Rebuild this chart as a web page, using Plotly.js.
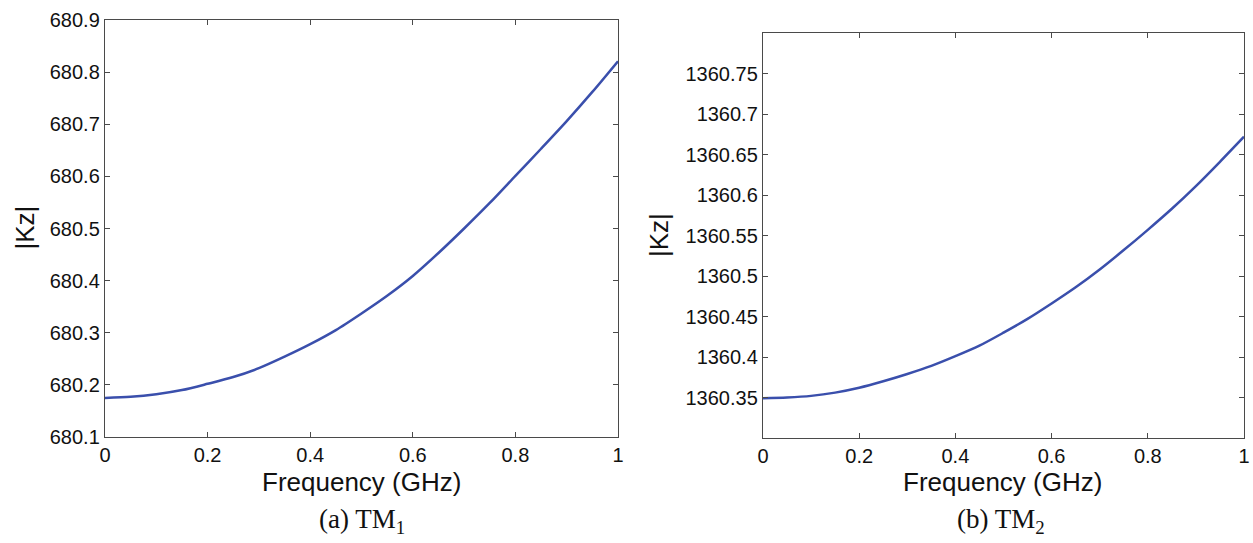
<!DOCTYPE html>
<html>
<head>
<meta charset="utf-8">
<script src="https://cdn.plot.ly/plotly-3.0.1.min.js"></script>
<style>
  html, body { margin: 0; padding: 0; background: #fff; }
  #chart { width: 1253px; height: 543px; }
</style>
</head>
<body>
<div id="chart"></div>
<script>
// Frequency sweep (GHz), shared by both modes
const freqGHz = [0, 0.05, 0.1, 0.15, 0.2, 0.25, 0.3, 0.35, 0.4, 0.45, 0.5,
                 0.55, 0.6, 0.65, 0.7, 0.75, 0.8, 0.85, 0.9, 0.95, 1.0];

// |Kz| for the TM1 mode
const kzTM1 = [680.175, 680.177, 680.182, 680.190, 680.202, 680.215, 680.232,
               680.254, 680.278, 680.305, 680.337, 680.371, 680.409, 680.453,
               680.500, 680.549, 680.601, 680.653, 680.706, 680.762, 680.821];

// |Kz| for the TM2 mode
const kzTM2 = [1360.349, 1360.350, 1360.352, 1360.356, 1360.362, 1360.370,
               1360.379, 1360.389, 1360.401, 1360.414, 1360.430, 1360.447,
               1360.466, 1360.486, 1360.508, 1360.532, 1360.557, 1360.583,
               1360.611, 1360.641, 1360.672];

const xTicks = [0, 0.2, 0.4, 0.6, 0.8, 1];
const yTicksTM1 = [680.1, 680.2, 680.3, 680.4, 680.5, 680.6, 680.7, 680.8, 680.9];
const yTicksTM2 = [1360.35, 1360.4, 1360.45, 1360.5, 1360.55, 1360.6, 1360.65, 1360.7, 1360.75];

const W = 1253, H = 543;
const fx = p => p / W;          // pixel -> paper x
const fy = p => 1 - p / H;      // pixel -> paper y

const lineColor = '#3a4fac';
const axisColor = '#4a4a4a';
const sans = 'Liberation Sans, Arial, Helvetica, sans-serif';
const serif = 'Liberation Serif, Times New Roman, serif';

function axisBase(extra) {
  return Object.assign({
    showgrid: false,
    zeroline: false,
    showline: true,
    linecolor: axisColor,
    linewidth: 1.2,
    mirror: 'ticks',
    ticks: 'inside',
    ticklen: 5,
    tickwidth: 1,
    tickcolor: axisColor,
    tickfont: { family: sans, size: 20, color: '#111' },
    fixedrange: true
  }, extra);
}

const traces = [
  {
    x: freqGHz, y: kzTM1, xaxis: 'x', yaxis: 'y',
    type: 'scatter', mode: 'lines',
    line: { color: lineColor, width: 2.5, shape: 'spline', smoothing: 0.8 },
    hoverinfo: 'skip'
  },
  {
    x: freqGHz, y: kzTM2, xaxis: 'x2', yaxis: 'y2',
    type: 'scatter', mode: 'lines',
    line: { color: lineColor, width: 2.5, shape: 'spline', smoothing: 0.8 },
    hoverinfo: 'skip'
  }
];

const titleFont = { family: sans, size: 26, color: '#111' };
const captionFont = { family: serif, size: 27, color: '#111' };

const layout = {
  width: W, height: H,
  margin: { l: 0, r: 0, t: 0, b: 0 },
  paper_bgcolor: '#fff',
  plot_bgcolor: '#fff',
  showlegend: false,
  xaxis: axisBase({
    domain: [fx(105), fx(618)], anchor: 'y',
    range: [0, 1], tickmode: 'array', tickvals: xTicks, tickformat: '~g'
  }),
  yaxis: axisBase({
    domain: [fy(437), fy(20)], anchor: 'x',
    range: [680.1, 680.9], tickmode: 'array', tickvals: yTicksTM1, tickformat: '.1f'
  }),
  xaxis2: axisBase({
    domain: [fx(763), fx(1244)], anchor: 'y2',
    range: [0, 1], tickmode: 'array', tickvals: xTicks, tickformat: '~g'
  }),
  yaxis2: axisBase({
    domain: [fy(438), fy(33)], anchor: 'x2',
    range: [1360.3, 1360.8], tickmode: 'array', tickvals: yTicksTM2, tickformat: '.2~f'
  }),
  annotations: [
    { text: 'Frequency (GHz)', x: fx(361.5), y: fy(482), xref: 'paper', yref: 'paper',
      showarrow: false, xanchor: 'center', yanchor: 'middle', font: titleFont },
    { text: 'Frequency (GHz)', x: fx(1002), y: fy(482), xref: 'paper', yref: 'paper',
      showarrow: false, xanchor: 'center', yanchor: 'middle', font: titleFont },
    { text: '|Kz|', x: fx(24.5), y: fy(228), xref: 'paper', yref: 'paper',
      showarrow: false, xanchor: 'center', yanchor: 'middle', textangle: -90, font: titleFont },
    { text: '|Kz|', x: fx(659), y: fy(235), xref: 'paper', yref: 'paper',
      showarrow: false, xanchor: 'center', yanchor: 'middle', textangle: -90, font: titleFont },
    { text: '(a) TM<sub>1</sub>', x: fx(362), y: fy(521), xref: 'paper', yref: 'paper',
      showarrow: false, xanchor: 'center', yanchor: 'middle', font: captionFont },
    { text: '(b) TM<sub>2</sub>', x: fx(1001), y: fy(521), xref: 'paper', yref: 'paper',
      showarrow: false, xanchor: 'center', yanchor: 'middle', font: captionFont }
  ]
};

Plotly.newPlot('chart', traces, layout, { displayModeBar: false, staticPlot: true });
</script>
</body>
</html>
